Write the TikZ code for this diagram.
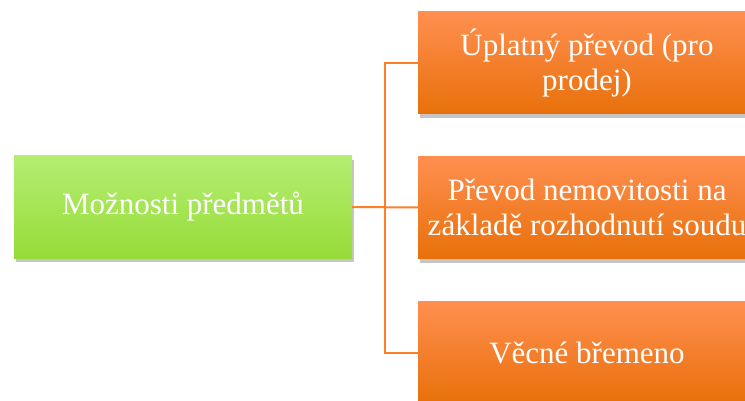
\documentclass[tikz,border=0pt]{standalone}
\usepackage{fontspec}
\setmainfont{Liberation Serif}
\usetikzlibrary{shadows}
\definecolor{gtop}{HTML}{B4EE72}
\definecolor{gmid}{HTML}{A6F04A}
\definecolor{gbot}{HTML}{96DC38}
\definecolor{otop}{HTML}{FF8F50}
\definecolor{omid}{HTML}{FF8019}
\definecolor{obot}{HTML}{E8700A}
\definecolor{conn}{HTML}{FF7F27}
\tikzset{
  box/.style={rectangle, minimum width=338pt, minimum height=102pt, inner sep=0pt,
    align=center, text=white, font=\fontsize{31}{35}\selectfont,
    drop shadow={opacity=0.45, shadow xshift=2pt, shadow yshift=-4pt}},
  gbox/.style={box, top color=gtop, middle color=gmid, bottom color=gbot},
  obox/.style={box, top color=otop, middle color=omid, bottom color=obot},
  link/.style={draw=conn, line width=2pt}
}
\begin{document}
\begin{tikzpicture}[x=1pt,y=-1pt]
\useasboundingbox (0,0) rectangle (745,401);
\clip (0,0) rectangle (745,401);
\fill[white] (0,0) rectangle (745,401);
\node[gbox] (g) at (183,207) {Možnosti předmětů};
\node[obox] (o1) at (587,63) {Úplatný převod (pro\\prodej)};
\node[obox] (o2) at (587,207.5) {Převod nemovitosti na\\základě rozhodnutí soudu};
\node[obox] (o3) at (587,352.5) {Věcné břemeno};
\coordinate (j) at (385,207);
\draw[link] (g.east) -- (o2.west);
\draw[link] (j) |- (o1.west);
\draw[link] (j) |- (o3.west);
\end{tikzpicture}
\end{document}
